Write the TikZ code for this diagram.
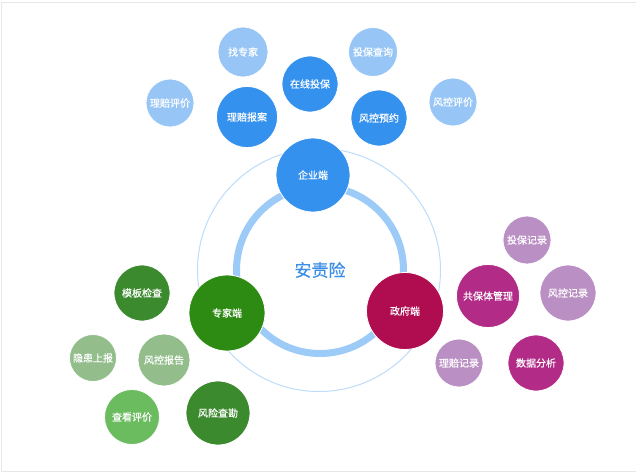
\documentclass[tikz,border=0pt]{standalone}
\usepackage{fontspec}
\setmainfont{Noto Sans CJK SC}
\newfontfamily\bubfont{Noto Sans CJK SC}[FakeBold=0.5]
\definecolor{dblue}{HTML}{3591EE}
\definecolor{lblue}{HTML}{97C6F6}
\definecolor{ringblue}{HTML}{9DCBF8}
\definecolor{outerblue}{HTML}{BCDCFA}
\definecolor{titleblue}{HTML}{3C8FE6}
\definecolor{dgreen}{HTML}{3C8A2E}
\definecolor{hgreen}{HTML}{2D8A12}
\definecolor{lgreen}{HTML}{93BE8C}
\definecolor{mgreen}{HTML}{6BBB5F}
\definecolor{crimson}{HTML}{B00C50}
\definecolor{magent}{HTML}{B22B86}
\definecolor{lpurple}{HTML}{BA8FC4}
\definecolor{frame}{HTML}{E6E6E6}
\begin{document}
\begin{tikzpicture}[x=1pt,y=-1pt,
  bub/.style={circle, draw=white, line width=0.8pt, inner sep=0pt, text=white,
    font=\bubfont\fontsize{10}{12}\selectfont, minimum size=#1},
  bub/.default=50pt]
\useasboundingbox (0,0) rectangle (637,474);
% faint frame
\draw[frame, line width=0.8pt] (636,2) -- (1.5,2) -- (1.5,471.5) -- (636,471.5);
% rings
\draw[outerblue, line width=1pt] (319,270) circle[radius=121.5];
\draw[ringblue, line width=7pt] (320,270) circle[radius=83.5];
\node[text=titleblue, font=\bubfont\fontsize{17}{20}\selectfont] (core) at (320,270) {安责险};
% main hubs
\node[bub=74pt, fill=dblue] (qiye) at (313,175) {企业端};
\node[bub=76pt, fill=hgreen] (zhuanjia) at (227,313) {专家端};
\node[bub=77pt, fill=crimson] (zhengfu) at (405,311) {政府端};
% enterprise cluster
\node[bub=50pt, fill=lblue] (zhaozj) at (243,52) {找专家};
\node[bub=49pt, fill=lblue] (tbcx) at (373,52) {投保查询};
\node[bub=56pt, fill=dblue] (zxtb) at (310,84) {在线投保};
\node[bub=48pt, fill=lblue] (lppj) at (170,103) {理赔评价};
\node[bub=61pt, fill=dblue] (lpba) at (247,117) {理赔报案};
\node[bub=56pt, fill=dblue] (fkyy) at (379,118) {风控预约};
\node[bub=48pt, fill=lblue] (fkpj) at (453,102) {风控评价};
% expert cluster
\node[bub=56pt, fill=dgreen] (mbjc) at (142,293) {模板检查};
\node[bub=47pt, fill=lgreen] (yhsb) at (93,358) {隐患上报};
\node[bub=52pt, fill=lgreen] (fkbg) at (164,360) {风控报告};
\node[bub=55pt, fill=mgreen] (ckpj) at (132,417) {查看评价};
\node[bub=64pt, fill=dgreen] (fxck) at (218,413) {风险查勘};
% government cluster
\node[bub=48pt, fill=lpurple] (tbjl) at (527,240) {投保记录};
\node[bub=63pt, fill=magent] (gbtgl) at (488,296) {共保体管理};
\node[bub=56pt, fill=lpurple] (fkjl) at (568,293) {风控记录};
\node[bub=48pt, fill=lpurple] (lpjl) at (459,363) {理赔记录};
\node[bub=56pt, fill=magent] (sjfx) at (536,363) {数据分析};
\end{tikzpicture}
\end{document}
